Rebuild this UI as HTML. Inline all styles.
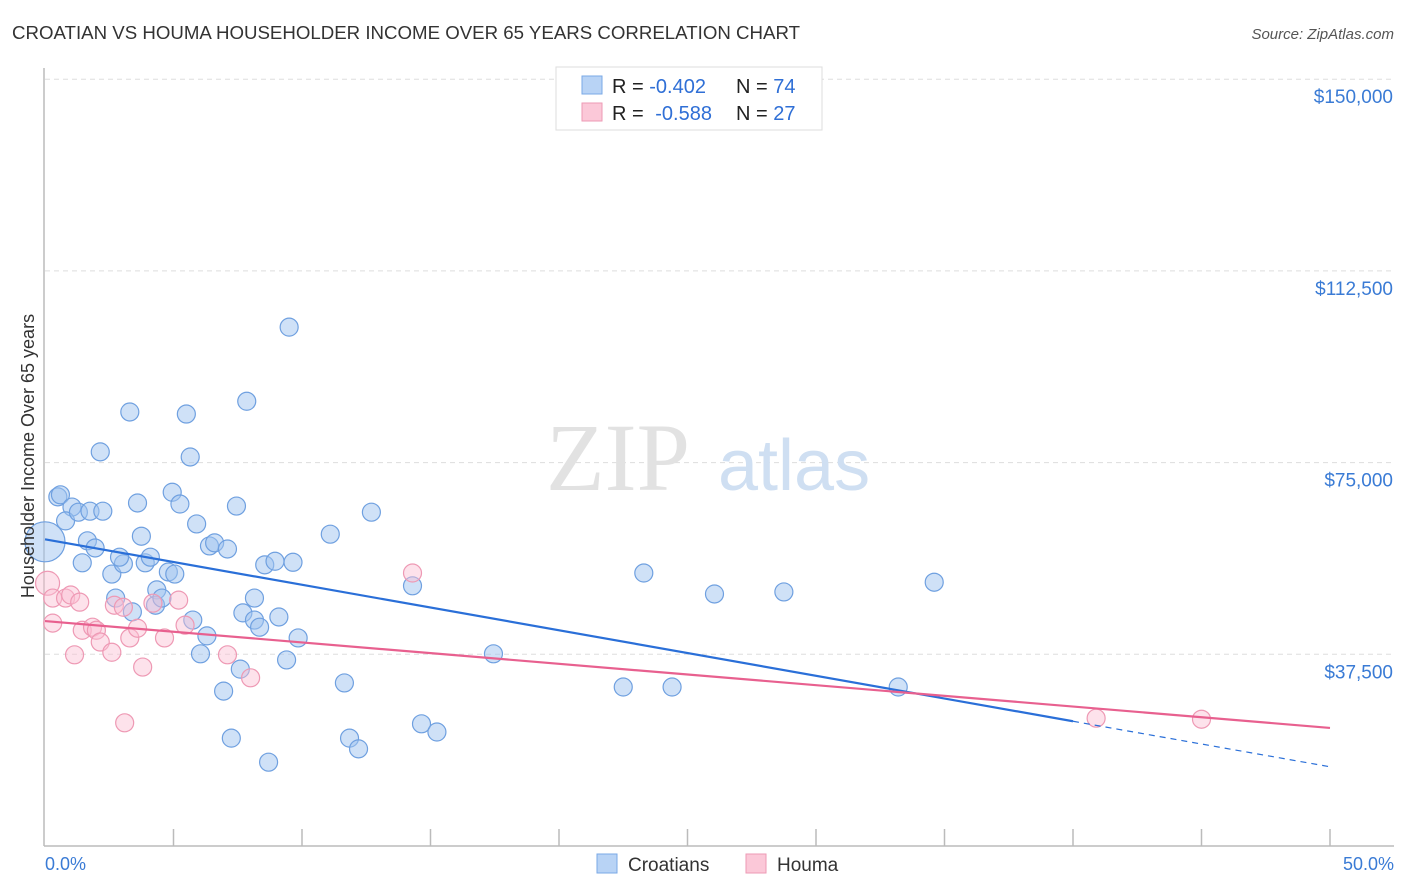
<!DOCTYPE html>
<html><head><meta charset="utf-8">
<style>
body{margin:0;background:#fff;font-family:"Liberation Sans",sans-serif;}
svg{display:block}
</style></head>
<body>
<svg id="chart" width="1406" height="892">
<text x="12" y="39" font-size="18.5" fill="#333" textLength="788" lengthAdjust="spacingAndGlyphs">CROATIAN VS HOUMA HOUSEHOLDER INCOME OVER 65 YEARS CORRELATION CHART</text>
<text x="1394" y="39" font-size="15" font-style="italic" fill="#555" text-anchor="end">Source: ZipAtlas.com</text>
<g id="grid"></g>
<text x="690" y="490" font-size="96" font-family="Liberation Serif,serif" fill="#e2e2e2" text-anchor="end">ZIP</text>
<text x="718" y="490" font-size="72" fill="#cfdff2">atlas</text>
<g id="marks"></g>
<text transform="translate(34,456) rotate(-90)" font-size="18" fill="#333" text-anchor="middle">Householder Income Over 65 years</text>
<text x="45" y="870" font-size="18" fill="#3a7bd5">0.0%</text>
<text x="1394" y="870" font-size="18" fill="#3a7bd5" text-anchor="end">50.0%</text>
<g>
<rect x="556" y="67" width="266" height="63" fill="#fff" stroke="#ddd"/>
<rect x="582" y="76" width="20" height="18" fill="#b8d3f5" stroke="#7aa8e6"/>
<rect x="582" y="103" width="20" height="18" fill="#fbc8d8" stroke="#ee9ab5"/>
<text x="612" y="93" font-size="20" fill="#222">R = <tspan fill="#2f6fd6">-0.402</tspan><tspan x="736">N = </tspan><tspan fill="#2f6fd6">74</tspan></text>
<text x="612" y="120" font-size="20" fill="#222">R = <tspan fill="#2f6fd6" dx="6">-0.588</tspan><tspan x="736">N = </tspan><tspan fill="#2f6fd6">27</tspan></text>
</g>
<g>
<rect x="597" y="854" width="20" height="19" fill="#b8d3f5" stroke="#7aa8e6"/>
<text x="628" y="871" font-size="19" fill="#333">Croatians</text>
<rect x="746" y="854" width="20" height="19" fill="#fbc8d8" stroke="#ee9ab5"/>
<text x="777" y="871" font-size="19" fill="#333">Houma</text>
</g>
</svg>
<script>
const yTicks=[37500,75000,112500,150000];
const yTickLabels=["$37,500","$75,000","$112,500","$150,000"];
const croX=[0.0,0.5,0.6,1.05,0.8,1.3,1.75,2.25,2.15,1.65,1.95,1.45,2.6,3.05,2.9,3.3,3.6,3.75,3.9,4.1,4.35,4.3,4.55,4.8,5.05,4.95,5.25,5.5,5.65,5.9,5.75,6.05,6.3,6.4,6.6,7.1,7.45,7.85,7.7,8.15,8.15,8.35,8.55,8.95,9.1,9.65,6.95,7.25,7.6,8.7,9.4,9.5,9.85,11.1,11.65,11.85,12.2,12.7,14.3,14.65,15.25,17.45,22.5,23.3,24.4,26.05,28.75,33.2,34.6,2.75,3.4];
const croY=[59.5,68.3,68.7,66.3,63.6,65.3,65.5,65.5,77.1,59.7,58.3,55.4,53.2,55.2,56.5,84.9,67.1,60.6,55.4,56.5,50.1,47.1,48.5,53.6,53.2,69.2,66.9,84.5,76.1,63.0,44.2,37.6,41.1,58.7,59.3,58.1,66.5,87.0,45.6,48.5,44.2,42.8,55.0,55.7,44.8,55.5,30.3,21.1,34.6,16.4,36.4,101.5,40.7,61.0,31.9,21.1,19.0,65.3,50.9,23.9,22.3,37.6,31.1,53.4,31.1,49.3,49.7,31.1,51.6,48.5,45.8];
const houX=[0.1,0.3,0.8,1.0,1.35,0.3,1.45,1.85,2.0,2.15,2.6,1.15,2.7,3.05,3.3,3.6,3.8,3.1,4.2,5.2,4.65,5.45,7.1,8.0,14.3,40.9,45.0];
const houY=[51.4,48.5,48.5,49.1,47.7,43.6,42.2,42.8,42.2,39.9,37.9,37.4,47.1,46.7,40.7,42.6,35.0,24.1,47.5,48.1,40.7,43.2,37.4,32.9,53.4,25.0,24.8];
const croTrend=[60.0,15.5]; // value at 0% and 50%
const houTrend=[44.0,23.1];
const xs=v=>45+v/50*1285;
const ys=v=>846-v/37.5*191.7;
const NS="http://www.w3.org/2000/svg";
const grid=document.getElementById('grid'),marks=document.getElementById('marks');
function mk(tag,attrs,parent){const e=document.createElementNS(NS,tag);for(const k in attrs)e.setAttribute(k,attrs[k]);parent.appendChild(e);return e;}
yTicks.forEach((t,i)=>{
 const l=mk('line',{x1:45,x2:1394,y1:ys(t/1000),y2:ys(t/1000),stroke:'#ddd','stroke-dasharray':'5,4'},grid);
 
 
 const tx=mk('text',{x:1393,y:ys(t/1000)+24,'font-size':19,fill:'#3a7bd5','text-anchor':'end'},grid);
 tx.textContent=yTickLabels[i];
 
 
});
const ax=mk('line',{x1:44,x2:44,y1:68,y2:846,stroke:'#bbb','stroke-width':1.5},grid);


const bx=mk('line',{x1:44,x2:1394,y1:846,y2:846,stroke:'#bbb','stroke-width':1.5},grid);


for(let i=1;i<=10;i++){const t=mk('line',{x1:xs(i*5),x2:xs(i*5),y1:829,y2:846,stroke:'#bbb','stroke-width':1.5},grid);
 
 }
croX.forEach((x,i)=>{const c=mk('circle',{cx:xs(x),cy:ys(croY[i]),r:i==0?20:9,fill:'rgba(160,196,240,0.5)',stroke:'#6fa0e0','stroke-width':1.2},marks);
 
 });
houX.forEach((x,i)=>{const c=mk('circle',{cx:xs(x),cy:ys(houY[i]),r:i==0?12:9,fill:'rgba(250,190,210,0.45)',stroke:'#ee99b4','stroke-width':1.2},marks);
 
 });
const cAt=x=>croTrend[0]+(croTrend[1]-croTrend[0])*x/50;
const l1=mk('line',{x1:xs(0),y1:ys(cAt(0)),x2:xs(40),y2:ys(cAt(40)),stroke:'#2a6fd8','stroke-width':2.2},marks);


const l2=mk('line',{x1:xs(40),y1:ys(cAt(40)),x2:xs(50),y2:ys(cAt(50)),stroke:'#2a6fd8','stroke-width':1.2,'stroke-dasharray':'6,5'},marks);


const l3=mk('line',{x1:xs(0),y1:ys(houTrend[0]),x2:xs(50),y2:ys(houTrend[1]),stroke:'#e8608f','stroke-width':2.2},marks);


</script>
</body></html>
